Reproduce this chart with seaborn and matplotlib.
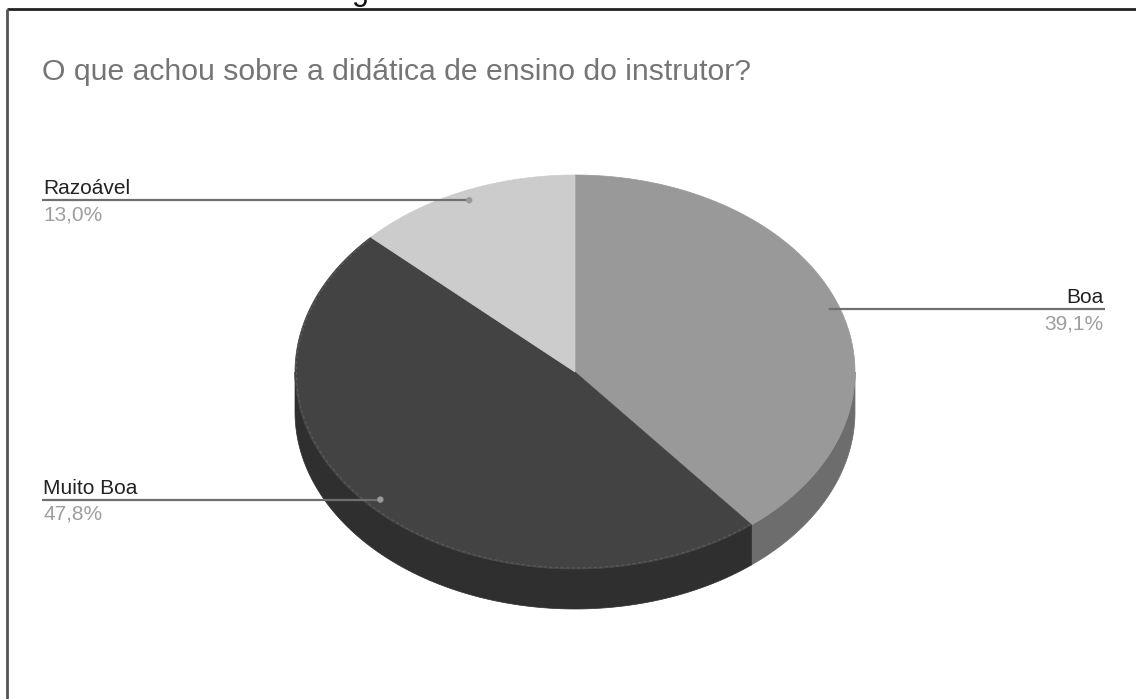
import numpy as np
import matplotlib
matplotlib.use("Agg")
import matplotlib.pyplot as plt
from matplotlib.patches import Polygon, Circle
import seaborn as sns

# ---- data ----
title = "O que achou sobre a didática de ensino do instrutor?"
categories = ["Boa", "Muito Boa", "Razoável"]
percentages = [39.1, 47.8, 13.0]

# ---- styles ----
top_colors = ["#999999", "#434343", "#cccccc"]
side_colors = ["#6d6d6d", "#2f2f2f", "#a3a3a3"]
label_side = ["right", "left", "left"]

sns.set_theme(style="white")
plt.rcParams["font.family"] = ["Liberation Sans", "DejaVu Sans"]

W, H = 1136, 699
fig = plt.figure(figsize=(W / 100, H / 100), dpi=100)
ax = fig.add_axes([0, 0, 1, 1])
ax.set_xlim(0, W)
ax.set_ylim(H, 0)
ax.axis("off")

cx, cy, a, b, depth = 575, 372, 280, 197, 40


def pt(theta_deg, r=1.0, dy=0.0):
    t = np.deg2rad(theta_deg)
    return cx + a * r * np.sin(t), cy - b * r * np.cos(t) + dy


total = sum(percentages)
starts = np.concatenate([[0], np.cumsum(percentages)[:-1]]) / total * 360
ends = np.cumsum(percentages) / total * 360

# side walls (front half only: 90..270 degrees clockwise from top)
for s, e, col in zip(starts, ends, side_colors):
    lo, hi = max(s, 90), min(e, 270)
    if hi <= lo:
        continue
    th = np.linspace(lo, hi, 200)
    xs, ys = pt(th)
    poly = np.column_stack([np.r_[xs, xs[::-1]], np.r_[ys, (ys + depth)[::-1]]])
    ax.add_patch(Polygon(poly, closed=True, facecolor=col, edgecolor=col, lw=0.5, zorder=1))

# top faces
for s, e, col in zip(starts, ends, top_colors):
    th = np.linspace(s, e, 300)
    xs, ys = pt(th)
    poly = np.column_stack([np.r_[cx, xs], np.r_[cy, ys]])
    ax.add_patch(Polygon(poly, closed=True, facecolor=col, edgecolor=col, lw=0.5, zorder=2))

# faint rim line on the dark slice
s, e = starts[1], ends[1]
th = np.linspace(s, e, 300)
xs, ys = pt(th, r=0.995)
ax.plot(xs, ys, color="#5a5a5a", lw=0.8, ls=(0, (3, 2)), zorder=3)

# leader lines and labels
for cat, pct, s, e, side in zip(categories, percentages, starts, ends, label_side):
    mid = (s + e) / 2
    dx, dyv = pt(mid, r=0.95)
    txt_pct = f"{pct:.1f}%".replace(".", ",")
    if side == "left":
        x0 = 42
        ax.plot([x0, dx], [dyv, dyv], color="#6f6f6f", lw=1.6, zorder=4, solid_capstyle="butt")
        ax.text(x0 + 1, dyv - 6, cat, ha="left", va="baseline", fontsize=15, color="#222222", zorder=5)
        ax.text(x0 + 1, dyv + 20, txt_pct, ha="left", va="baseline", fontsize=15, color="#9e9e9e", zorder=5)
    else:
        x1 = 1105
        ax.plot([dx, x1], [dyv, dyv], color="#6f6f6f", lw=1.6, zorder=4, solid_capstyle="butt")
        ax.text(x1 - 2, dyv - 6, cat, ha="right", va="baseline", fontsize=15, color="#222222", zorder=5)
        ax.text(x1 - 2, dyv + 20, txt_pct, ha="right", va="baseline", fontsize=15, color="#9e9e9e", zorder=5)
    ax.add_patch(Circle((dx, dyv), 3.2, facecolor="#9a9a9a", edgecolor="none", zorder=5))

# title
ax.text(42, 80, title, ha="left", va="baseline", fontsize=21.7, color="#757575", zorder=5)

# frame (cropped screenshot border) and cut-off glyph above it
ax.plot([6.5, W], [8.5, 8.5], color="#222222", lw=2.0, zorder=6, solid_capstyle="butt")
ax.plot([6.5, 6.5], [8.5, H], color="#555555", lw=2.0, zorder=6, solid_capstyle="butt")
ax.text(352, 0, "g", ha="left", va="baseline", fontsize=22, color="#111111", zorder=6)

fig.savefig("out.png", dpi=100)
